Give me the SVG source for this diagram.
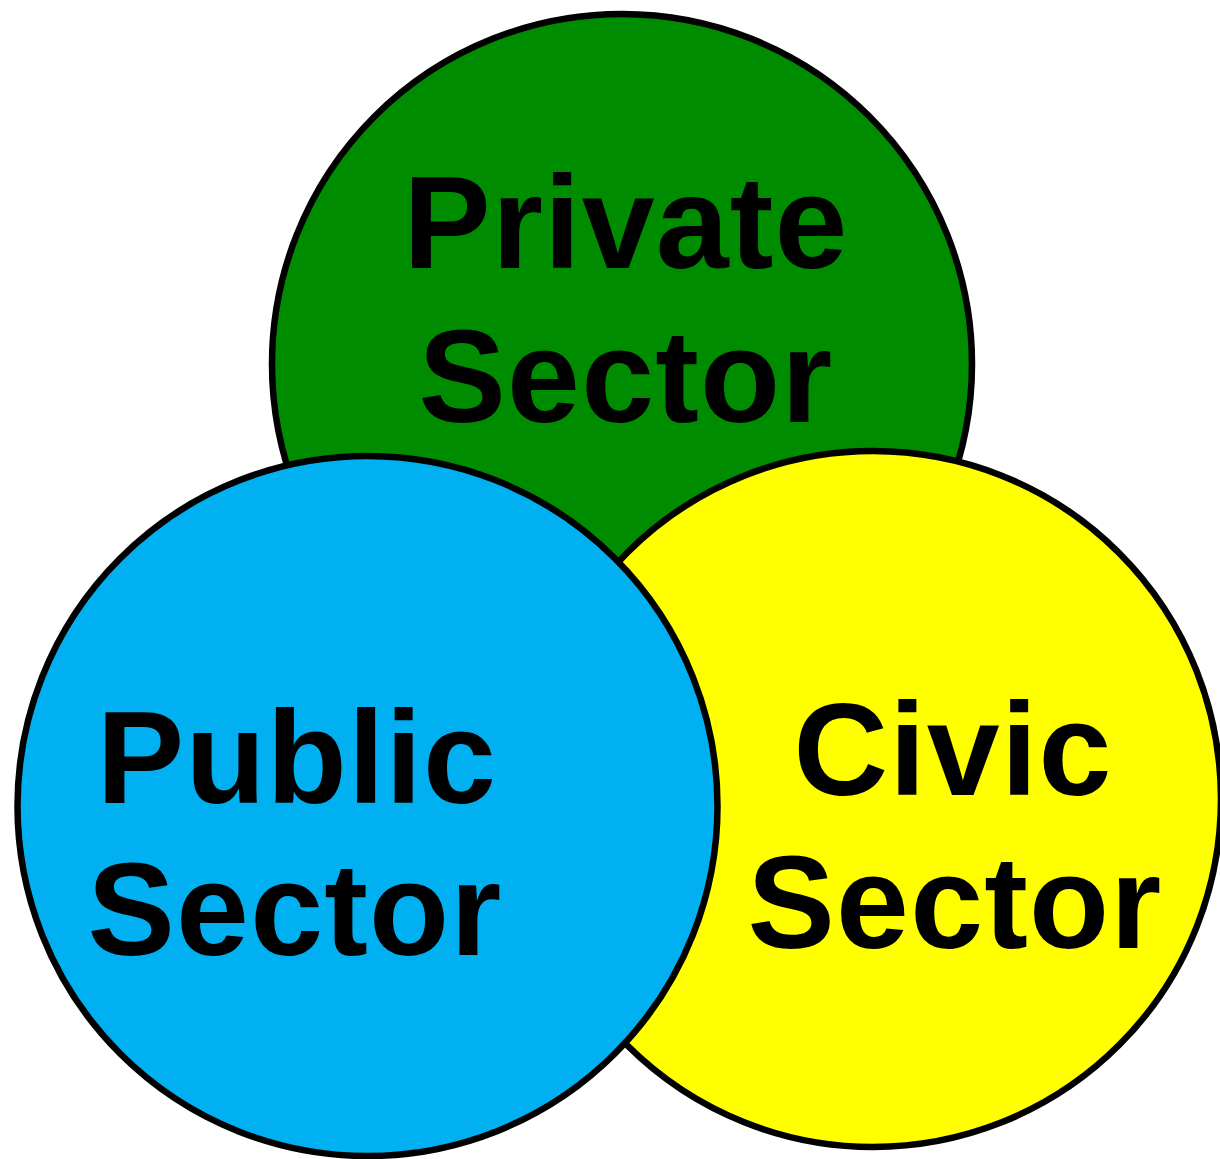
<svg xmlns="http://www.w3.org/2000/svg" width="1220" height="1159" viewBox="0 0 1220 1159">
<style>
.c{stroke:#000;stroke-width:6.5}
.t{font-family:"Liberation Sans",Arial,sans-serif;font-weight:bold;font-size:131px;letter-spacing:1.2px;fill:#000;text-anchor:middle}
</style>
<rect width="1220" height="1159" fill="#fff"/>
<g id="private">
<circle class="c" cx="622" cy="364" r="350" fill="#008c00"/>
<text class="t" x="626" y="268">Private</text>
<text class="t" x="626" y="422">Sector</text>
</g>
<g id="civic">
<circle class="c" cx="873" cy="799" r="348" fill="#ffff00"/>
<text class="t" x="953" y="795">Civic</text>
<text class="t" x="955" y="948">Sector</text>
</g>
<g id="public">
<circle class="c" cx="367.5" cy="806" r="350" fill="#00b0f0"/>
<text class="t" x="297" y="803">Public</text>
<text class="t" x="295" y="955">Sector</text>
</g>
<g id="connectors"/>
</svg>
